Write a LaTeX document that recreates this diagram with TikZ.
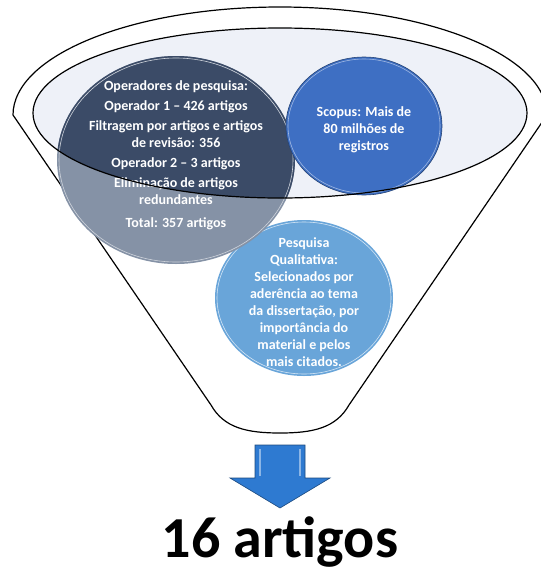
\documentclass[tikz,border=0pt]{standalone}
\usepackage{fontspec}
\setmainfont{Carlito}
\usetikzlibrary{positioning}

\definecolor{rimfill}{HTML}{EEF1F8}
\definecolor{darkslate}{HTML}{3B4B67}
\definecolor{paleslate}{HTML}{8592A6}
\definecolor{scopusblue}{HTML}{3E6FC3}
\definecolor{qualiblue}{HTML}{69A5D9}
\definecolor{arrowblue}{HTML}{2E7AD1}

\tikzstyle{funnelline} = [draw=black, line width=1.2pt]
\tikzstyle{circtext} = [text=white, align=center, font=\bfseries\fontsize{14}{17}\selectfont]
\tikzstyle{bigtext} = [text=black, inner sep=0pt, font=\bfseries\fontsize{58}{58}\selectfont]

\begin{document}
\begin{tikzpicture}[x=1pt, y=1pt]
  \useasboundingbox (0,0) rectangle (541,-574);

  % funnel body and rim
  \path[funnelline, fill=white] (13,-115) arc[start angle=180, end angle=0, x radius=267, y radius=108]
    -- (349,-405) .. controls (336,-428) and (313,-433) .. (280,-433)
    .. controls (247,-433) and (224,-428) .. (211,-405) -- cycle;
  \fill[rimfill] (280,-113) ellipse [x radius=247, y radius=85];

  % the three circles
  \fill[qualiblue] (304,-298) ellipse [x radius=89, y radius=78];
  \draw[white!70!qualiblue, line width=0.6pt] (304,-298) ellipse [x radius=87, y radius=76];
  \fill[paleslate] (176,-160) ellipse [x radius=119, y radius=104];
  \begin{scope}
    \clip (280,-113) ellipse [x radius=247, y radius=85];
    \fill[darkslate] (176,-160) ellipse [x radius=119, y radius=104];
  \end{scope}
  \draw[white!60!paleslate, line width=0.6pt] (176,-160) ellipse [x radius=117, y radius=102];
  \fill[scopusblue] (364,-126) ellipse [x radius=78, y radius=69];
  \draw[scopusblue!60!black, line width=0.6pt] (364,-126) ellipse [x radius=78, y radius=69];
  \draw[white!50!scopusblue, line width=0.6pt] (364,-126) ellipse [x radius=76, y radius=67];

  % texts of the circles
  \node (operadores) [circtext] at (176,-155) {Operadores de pesquisa:\\[3pt]
    Operador 1 -- 426 artigos\\[3pt]
    Filtragem por artigos e artigos\\de revisão: 356\\[3pt]
    Operador 2 -- 3 artigos\\[3pt]
    Eliminação de artigos\\redundantes\\[6pt]
    Total: 357 artigos};
  \node (scopus) [circtext] at (364,-130) {Scopus: Mais de\\80 milhões de\\registros};
  \node (qualitativa) [circtext] at (304,-302) {Pesquisa\\Qualitativa:\\Selecionados por\\aderência ao tema\\da dissertação, por\\importância do\\material e pelos\\mais citados.};

  % rim line over the circles
  \draw[funnelline] (280,-113) ellipse [x radius=247, y radius=85];

  % arrow and result
  \coordinate (tip) at (280,-508);
  \draw[fill=arrowblue, draw=arrowblue!60!black, line width=0.6pt]
    (255,-445) -- (305,-445) -- (305,-478) -- (330,-478) -- (tip)
    -- (230,-478) -- (255,-478) -- cycle;
  \draw[white!45!arrowblue, line width=1.5pt] (260,-449) -- (260,-476);
  \draw[white!45!arrowblue, line width=1.5pt] (300,-449) -- (300,-476);
  \node (result) [bigtext] at (280,-542) {16 artigos};

\end{tikzpicture}
\end{document}
